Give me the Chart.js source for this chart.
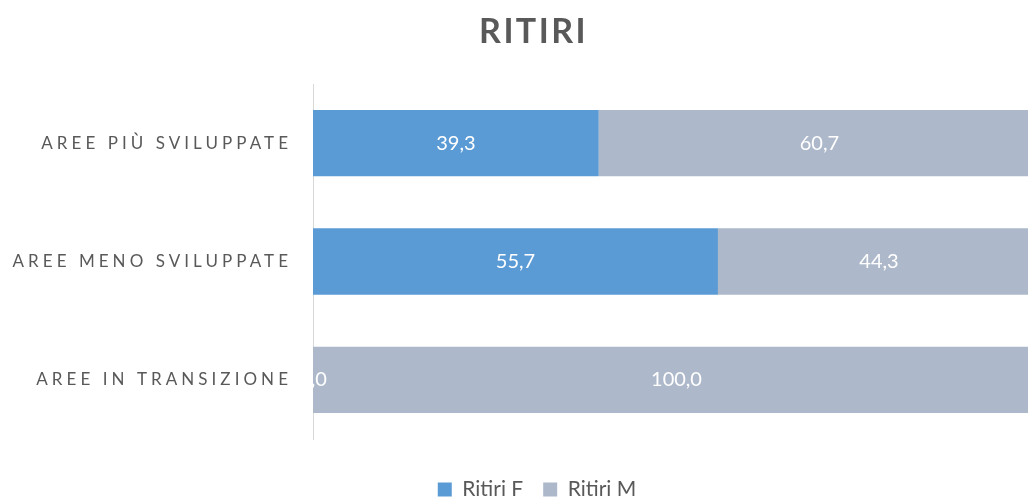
<!DOCTYPE html>
<html lang="it">
<head>
<meta charset="utf-8">
<title>Ritiri</title>
<script src="https://cdn.jsdelivr.net/npm/chart.js@4.4.1/dist/chart.umd.min.js"></script>
<style>
  html, body { margin: 0; padding: 0; background: #fff; }
  #wrap { width: 1028px; height: 498px; position: relative; }
</style>
</head>
<body>
<div id="wrap"><canvas id="ritiriChart"></canvas></div>
<script>
// Dati
const categorie = ['AREE PIÙ SVILUPPATE', 'AREE MENO SVILUPPATE', 'AREE IN TRANSIZIONE'];
const ritiriF = [39.3, 55.7, 0];
const ritiriM = [60.7, 44.3, 100];
const nomiSerie = ['Ritiri F', 'Ritiri M'];
const titolo = 'RITIRI';

const FONT = 'Lato, "Open Sans", sans-serif';
const GRIGIO = '#595959';

// formato italiano con una cifra decimale
function formatta(v) {
  return v.toFixed(1).replace('.', ',');
}

// Titolo e etichette categorie con spaziatura tra le lettere
const testiPlugin = {
  id: 'testi',
  afterLayout(chart) {
    // sposta un po' la legenda verso destra come nell'originale
    chart.legend.left += 23;
    chart.legend.right += 23;
  },
  afterDraw(chart) {
    const ctx = chart.ctx;
    const y = chart.scales.y;
    ctx.save();
    ctx.fillStyle = GRIGIO;
    ctx.font = 'bold 34px ' + FONT;
    ctx.letterSpacing = '2.4px';
    ctx.textAlign = 'center';
    ctx.textBaseline = 'alphabetic';
    ctx.fillText(titolo, 533.5, 43);

    ctx.font = '17px ' + FONT;
    ctx.letterSpacing = '4.05px';
    ctx.textAlign = 'right';
    ctx.textBaseline = 'middle';
    categorie.forEach((c, i) => {
      ctx.fillText(c, 292, y.getPixelForValue(i));
    });
    ctx.restore();
  }
};

// Etichette dei valori al centro di ogni barra
const valoriPlugin = {
  id: 'valori',
  afterDatasetsDraw(chart) {
    const ctx = chart.ctx;
    ctx.save();
    ctx.fillStyle = '#ffffff';
    ctx.font = '20px ' + FONT;
    ctx.textAlign = 'center';
    ctx.textBaseline = 'middle';
    chart.data.datasets.forEach((ds, di) => {
      const meta = chart.getDatasetMeta(di);
      meta.data.forEach((bar, i) => {
        const cx = (bar.x + bar.base) / 2;
        ctx.fillText(formatta(ds.data[i]), cx, bar.y);
      });
    });
    ctx.restore();
  }
};

new Chart(document.getElementById('ritiriChart'), {
  type: 'bar',
  data: {
    labels: categorie,
    datasets: [
      { label: nomiSerie[0], data: ritiriF, backgroundColor: '#5B9BD5', borderWidth: 0 },
      { label: nomiSerie[1], data: ritiriM, backgroundColor: '#ADB9CA', borderWidth: 0 }
    ]
  },
  options: {
    indexAxis: 'y',
    responsive: true,
    maintainAspectRatio: false,
    animation: false,
    barPercentage: 0.56,
    categoryPercentage: 1,
    layout: { padding: { top: 84, left: 0, right: 0, bottom: -12 } },
    scales: {
      x: {
        stacked: true,
        min: 0,
        max: 98.35,
        display: true,
        ticks: { display: false },
        grid: { display: false },
        border: { display: false },
        afterFit(s) { s.height = 20; }
      },
      y: {
        stacked: true,
        ticks: { display: false },
        grid: { display: false },
        border: { display: true, color: '#d9d9d9', width: 1 },
        afterFit(s) { s.width = 313; }
      }
    },
    plugins: {
      title: { display: false },
      tooltip: { enabled: false },
      legend: {
        position: 'bottom',
        labels: {
          color: GRIGIO,
          font: { family: FONT, size: 21 },
          boxWidth: 14,
          boxHeight: 14,
          padding: 20
        }
      }
    }
  },
  plugins: [testiPlugin, valoriPlugin]
});
</script>
</body>
</html>
